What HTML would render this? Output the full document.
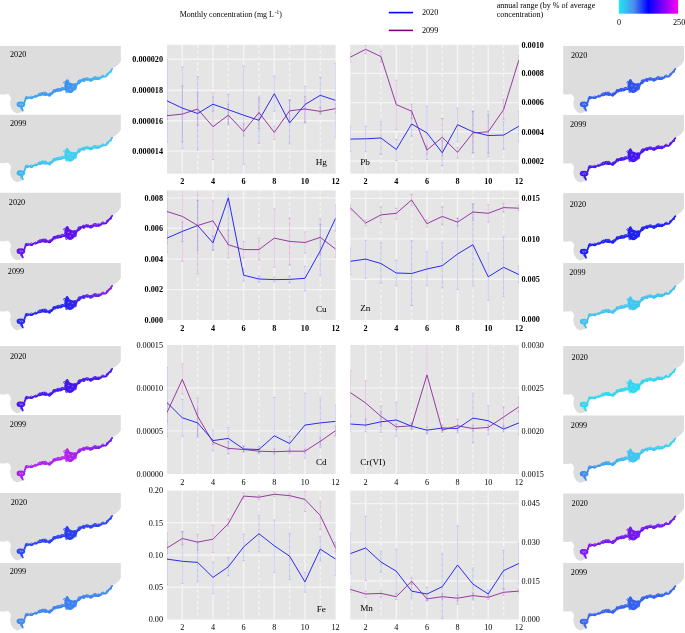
<!DOCTYPE html>
<html><head><meta charset="utf-8"><style>
html,body{margin:0;padding:0;background:#fff;width:685px;height:633px;overflow:hidden}
svg{display:block;will-change:transform;font-family:"Liberation Serif",serif;fill:#000}
</style></head><body>
<svg width="685" height="633" viewBox="0 0 685 633">
<text x="179.8" y="17.1" font-size="7.95">Monthly concentration (mg L<tspan dx="0.8" dy="-2.9" font-size="5.3">-1</tspan><tspan dy="2.9">)</tspan></text>
<path d="M388.8 12.6H413" stroke="#0000ff" stroke-width="1.6"/>
<path d="M388.8 30.4H413" stroke="#800080" stroke-width="1.6"/>
<text x="421.9" y="14.8" font-size="8.2">2020</text>
<text x="421.9" y="32.6" font-size="8.2">2099</text>
<text x="496.7" y="7.7" font-size="8.05">annual range (by % of average</text>
<text x="496.7" y="16.9" font-size="8.05">concentration)</text>
<linearGradient id="cbar" x1="0" y1="0" x2="1" y2="0"><stop offset="0" stop-color="#20e8f4"/><stop offset="0.25" stop-color="#4a90ee"/><stop offset="0.5" stop-color="#0000ff"/><stop offset="0.75" stop-color="#8000f4"/><stop offset="1" stop-color="#ff00f0"/></linearGradient>
<rect x="618.8" y="0" width="59.3" height="13.7" fill="url(#cbar)"/>
<text x="619" y="25" font-size="8.2" text-anchor="middle">0</text>
<text x="673" y="25" font-size="8.2">250</text>
<defs><polygon id="land" points="0,0 120.8,0 120.8,15.2 119.5,17 118,18.8 115.5,20.8 112.5,22.7 109,27.2 107,29.7 104,30.7 99,33.2 95,32.7 92,35.2 89,34.2 85,34.7 80,36.2 76,39.2 74,44 70,46.5 66,45 62,43.7 58,44.7 55,47.2 48,49.7 44,48.5 38,50.2 33,51.7 28,52.7 24.5,54.2 23.5,58.2 23,62 22.5,64.7 21,66.2 17,67.5 13.5,65.7 11,62 10,56.6 11,52.5 10,50 8,47.8 5,48.5 2,48.5 0,48.4" fill="#dddddd"/><g id="coastg"><path d="M22.8,64.6 L22,62.5 L21,60.6 M24.8,56 L24.6,56.0 L24.8,54.8 L25.5,53.8 L25.5,52.2 L27.0,52.4 L28.1,52.0 L29.3,51.4 L30.3,52.1 L31.3,52.0 L32.5,51.8 L33.3,51.1 L34.4,50.5 L35.5,50.5 L36.6,50.6 L37.5,49.7 L38.5,49.5 L39.6,49.4 L40.7,49.3 L41.5,48.7 L42.5,48.4 L43.5,48.8 L44.5,47.8 L45.2,48.8 L46.2,48.6 L47.1,48.7 L48.2,49.0 L49.0,49.6 L50.1,49.4 L50.5,48.3 L51.6,48.1 L52.4,47.3 L53.0,46.3 L53.8,45.6 L54.8,45.0 L55.9,44.8 L56.9,44.7 L58.0,44.9 L59.0,44.5 L59.9,44.3 L61.0,44.2 L62.0,43.7 L63.2,43.3 L64.5,43.2 M76.7,38.7 L77.3,38.0 L77.7,37.0 L78.5,36.6 L79.3,35.9 L80.1,35.6 L81.1,35.1 L81.9,34.4 L83.1,34.6 L83.9,33.7 L84.9,33.7 L85.8,33.8 L86.9,33.4 L88.0,33.8 L89.1,33.6 L90.0,34.4 L91.1,34.7 L91.9,34.1 L92.9,33.8 L93.5,32.9 L94.4,32.8 L95.4,32.9 L96.5,33.1 L97.4,32.9 L98.4,33.2 L99.4,32.8 L100.1,32.0 L101.1,31.7 L101.8,30.7 L103.0,30.8 L104.1,30.6 L105.2,30.7 L106.4,30.3 L106.7,28.9 L107.5,27.8 L108.6,27.4 L109.3,26.3 L110.8,25.8 L111.0,24.7 L111.4,23.8 L112.2,23.0 M26,52.6 L26.2,51.0 M42,48.5 L42.3,46.8 M53,46.5 L53.4,44.6 M57,45 L57.5,43.2 M80.5,36 L80.8,34.4 M90,34.6 L90.4,33 M101,32 L101.4,30.6" fill="none" stroke-width="1.8" stroke-linejoin="round" stroke-linecap="round"/><path d="M37.8,48.2 L39.0,48.5 L39.6,47.6 L40.5,47.4 L41.5,47.2 L42.6,47.4 L43.3,46.4 L44.4,46.6 L45.2,47.0 L46.0,47.6 L46.9,47.9 L48.2,48.3 L49.4,48.0 L50.4,47.3 L51.4,46.5 L52.5,46.1 L53.4,45.3 L53.7,43.9 L54.8,43.7 L55.9,43.5 L57.2,43.2 L58.5,43.2 L59.8,42.9 L61.0,42.3 L62.2,41.8 L63.5,42.0 M78.0,35.1 L78.9,34.5 L80.0,34.1 L81.1,34.2 L82.0,33.7 L83.0,33.2 L84.0,33.0 L85.0,32.8 L86.0,32.0 L87.2,32.9 L88.4,32.9 L89.7,33.3 L91.1,33.5 L91.8,32.6 L92.7,32.2 L93.4,31.4 L94.4,31.4 L95.8,31.1 L97.0,31.4 L98.2,31.4 L99.5,31.6" fill="none" stroke-width="1.3" stroke-linejoin="round" stroke-linecap="round" stroke-opacity="0.8"/><polygon points="64.2,41 64.6,37.8 65.3,35.2 66.4,33.4 67.8,33.2 68.8,34.8 69.6,36.4 71.2,37 73,37.6 75,37.2 76.6,37.6 77.4,39.5 76.8,41.8 75.2,43.8 73.4,45.6 71.5,46.9 69.5,47.1 67.5,46.3 65.6,45 64.4,43.4" stroke="none"/><ellipse cx="20.9" cy="58.4" rx="3.4" ry="1.9" fill-opacity="0.45" stroke-width="1.9"/><ellipse cx="45.6" cy="48.6" rx="1.9" ry="1.3" stroke="none"/><ellipse cx="49.5" cy="49.4" rx="1.5" ry="1.1" stroke="none"/><ellipse cx="31.5" cy="52.2" rx="1.3" ry="1.0" stroke="none"/><ellipse cx="60.5" cy="44.4" rx="1.5" ry="1.1" stroke="none"/><ellipse cx="79" cy="37" rx="1.4" ry="1.0" stroke="none"/><ellipse cx="84" cy="35" rx="1.3" ry="1.0" stroke="none"/><ellipse cx="90.5" cy="34.6" rx="1.3" ry="0.9" stroke="none"/><ellipse cx="96" cy="33" rx="1.2" ry="0.9" stroke="none"/><ellipse cx="68.6" cy="39.6" rx="0.9" ry="0.7" stroke="none" fill="#dddddd" fill-opacity="0.45"/><ellipse cx="72.4" cy="40.6" rx="0.8" ry="0.6" stroke="none" fill="#dddddd" fill-opacity="0.45"/><ellipse cx="70.2" cy="43.4" rx="0.7" ry="0.6" stroke="none" fill="#dddddd" fill-opacity="0.45"/><path fill="none" stroke-width="0.9" d="M26.4,51.6a1.1,1.1 0 1 0 2.2,0a1.1,1.1 0 1 0 -2.2,0M30.3,51.3a1.2,1.2 0 1 0 2.4,0a1.2,1.2 0 1 0 -2.4,0M34.5,50.2a1.0,1.0 0 1 0 2.0,0a1.0,1.0 0 1 0 -2.0,0M38.8,48.2a1.2,1.2 0 1 0 2.4,0a1.2,1.2 0 1 0 -2.4,0M44.1,47.6a1.4,1.4 0 1 0 2.8,0a1.4,1.4 0 1 0 -2.8,0M48.7,48.4a1.3,1.3 0 1 0 2.6,0a1.3,1.3 0 1 0 -2.6,0M53.8,45.0a1.2,1.2 0 1 0 2.4,0a1.2,1.2 0 1 0 -2.4,0M57.5,43.6a1.3,1.3 0 1 0 2.6,0a1.3,1.3 0 1 0 -2.6,0M61.4,42.6a1.1,1.1 0 1 0 2.2,0a1.1,1.1 0 1 0 -2.2,0M78.3,35.2a1.2,1.2 0 1 0 2.4,0a1.2,1.2 0 1 0 -2.4,0M82.3,33.6a1.2,1.2 0 1 0 2.4,0a1.2,1.2 0 1 0 -2.4,0M86.2,32.9a1.3,1.3 0 1 0 2.6,0a1.3,1.3 0 1 0 -2.6,0M90.4,33.6a1.1,1.1 0 1 0 2.2,0a1.1,1.1 0 1 0 -2.2,0M93.8,31.8a1.2,1.2 0 1 0 2.4,0a1.2,1.2 0 1 0 -2.4,0M98.0,32.1a1.0,1.0 0 1 0 2.0,0a1.0,1.0 0 1 0 -2.0,0M102.0,30.0a1.0,1.0 0 1 0 2.0,0a1.0,1.0 0 1 0 -2.0,0M106.6,28.6a0.9,0.9 0 1 0 1.8,0a0.9,0.9 0 1 0 -1.8,0M109.7,25.6a0.8,0.8 0 1 0 1.6,0a0.8,0.8 0 1 0 -1.6,0M17.7,57.5a1.3,1.3 0 1 0 2.6,0a1.3,1.3 0 1 0 -2.6,0M21.3,58.8a1.2,1.2 0 1 0 2.4,0a1.2,1.2 0 1 0 -2.4,0M20.6,62.3a0.9,0.9 0 1 0 1.8,0a0.9,0.9 0 1 0 -1.8,0M63.6,36.5a0.9,0.9 0 1 0 1.8,0a0.9,0.9 0 1 0 -1.8,0M77.0,37.2a1.0,1.0 0 1 0 2.0,0a1.0,1.0 0 1 0 -2.0,0M65.6,45.8a0.9,0.9 0 1 0 1.8,0a0.9,0.9 0 1 0 -1.8,0M74.6,43.0a0.9,0.9 0 1 0 1.8,0a0.9,0.9 0 1 0 -1.8,0"/></g></defs>
<linearGradient id="mg0" gradientUnits="userSpaceOnUse" x1="20" y1="0" x2="112" y2="0"><stop offset="0" stop-color="#3aa8f2"/><stop offset="0.5" stop-color="#3c92f0"/><stop offset="1" stop-color="#40c6f2"/></linearGradient>
<g transform="translate(0,46)"><use href="#land"/><use href="#coastg" stroke="url(#mg0)" fill="url(#mg0)"/><text x="10" y="11" font-size="8.2">2020</text></g>
<linearGradient id="mg1" gradientUnits="userSpaceOnUse" x1="20" y1="0" x2="112" y2="0"><stop offset="0" stop-color="#38b8f0"/><stop offset="0.5" stop-color="#40d0f2"/><stop offset="1" stop-color="#3cc8f0"/></linearGradient>
<g transform="translate(0,114.7)"><use href="#land"/><use href="#coastg" stroke="url(#mg1)" fill="url(#mg1)"/><text x="10" y="11.1" font-size="8.2">2099</text></g>
<linearGradient id="mg2" gradientUnits="userSpaceOnUse" x1="20" y1="0" x2="112" y2="0"><stop offset="0" stop-color="#6412f2"/><stop offset="0.5" stop-color="#5e12f0"/><stop offset="1" stop-color="#6a14f2"/></linearGradient>
<g transform="translate(0,192.8)"><use href="#land"/><use href="#coastg" stroke="url(#mg2)" fill="url(#mg2)"/><text x="8.8" y="12.3" font-size="8.2">2020</text></g>
<linearGradient id="mg3" gradientUnits="userSpaceOnUse" x1="20" y1="0" x2="112" y2="0"><stop offset="0" stop-color="#2a2af2"/><stop offset="0.5" stop-color="#2424f0"/><stop offset="1" stop-color="#8a1cf0"/></linearGradient>
<g transform="translate(0,262.9)"><use href="#land"/><use href="#coastg" stroke="url(#mg3)" fill="url(#mg3)"/><text x="7.8" y="11" font-size="8.2">2099</text></g>
<linearGradient id="mg4" gradientUnits="userSpaceOnUse" x1="20" y1="0" x2="112" y2="0"><stop offset="0" stop-color="#4a16f0"/><stop offset="0.5" stop-color="#4218f0"/><stop offset="1" stop-color="#4a16f0"/></linearGradient>
<g transform="translate(0,345.9)"><use href="#land"/><use href="#coastg" stroke="url(#mg4)" fill="url(#mg4)"/><text x="10" y="12.8" font-size="8.2">2020</text></g>
<linearGradient id="mg5" gradientUnits="userSpaceOnUse" x1="20" y1="0" x2="112" y2="0"><stop offset="0" stop-color="#a81ef2"/><stop offset="0.5" stop-color="#b424f2"/><stop offset="1" stop-color="#6e18f0"/></linearGradient>
<g transform="translate(0,415)"><use href="#land"/><use href="#coastg" stroke="url(#mg5)" fill="url(#mg5)"/><text x="9.8" y="11.9" font-size="8.2">2099</text></g>
<linearGradient id="mg6" gradientUnits="userSpaceOnUse" x1="20" y1="0" x2="112" y2="0"><stop offset="0" stop-color="#3048f0"/><stop offset="0.5" stop-color="#2a3cf0"/><stop offset="1" stop-color="#3048f0"/></linearGradient>
<g transform="translate(0,492.9)"><use href="#land"/><use href="#coastg" stroke="url(#mg6)" fill="url(#mg6)"/><text x="10.7" y="12.2" font-size="8.2">2020</text></g>
<linearGradient id="mg7" gradientUnits="userSpaceOnUse" x1="20" y1="0" x2="112" y2="0"><stop offset="0" stop-color="#4088f0"/><stop offset="0.5" stop-color="#3c80f0"/><stop offset="1" stop-color="#4088f0"/></linearGradient>
<g transform="translate(0,562.9)"><use href="#land"/><use href="#coastg" stroke="url(#mg7)" fill="url(#mg7)"/><text x="9.7" y="11" font-size="8.2">2099</text></g>
<linearGradient id="mg8" gradientUnits="userSpaceOnUse" x1="20" y1="0" x2="112" y2="0"><stop offset="0" stop-color="#3060f0"/><stop offset="0.5" stop-color="#3050f0"/><stop offset="1" stop-color="#3a70f0"/></linearGradient>
<g transform="translate(563.2,45.9)"><use href="#land"/><use href="#coastg" stroke="url(#mg8)" fill="url(#mg8)"/><text x="7.7" y="12.4" font-size="8.2">2020</text></g>
<linearGradient id="mg9" gradientUnits="userSpaceOnUse" x1="20" y1="0" x2="112" y2="0"><stop offset="0" stop-color="#4018f0"/><stop offset="0.5" stop-color="#4418f0"/><stop offset="1" stop-color="#5a14f0"/></linearGradient>
<g transform="translate(563.2,115.1)"><use href="#land"/><use href="#coastg" stroke="url(#mg9)" fill="url(#mg9)"/><text x="6.8" y="11.7" font-size="8.2">2099</text></g>
<linearGradient id="mg10" gradientUnits="userSpaceOnUse" x1="20" y1="0" x2="112" y2="0"><stop offset="0" stop-color="#2020f0"/><stop offset="0.5" stop-color="#2020f0"/><stop offset="1" stop-color="#2424f0"/></linearGradient>
<g transform="translate(563.2,193.1)"><use href="#land"/><use href="#coastg" stroke="url(#mg10)" fill="url(#mg10)"/><text x="6.5" y="13.8" font-size="8.2">2020</text></g>
<linearGradient id="mg11" gradientUnits="userSpaceOnUse" x1="20" y1="0" x2="112" y2="0"><stop offset="0" stop-color="#40c0f0"/><stop offset="0.5" stop-color="#40c8f0"/><stop offset="1" stop-color="#40c0f0"/></linearGradient>
<g transform="translate(563.2,263.1)"><use href="#land"/><use href="#coastg" stroke="url(#mg11)" fill="url(#mg11)"/><text x="6" y="11.8" font-size="8.2">2099</text></g>
<linearGradient id="mg12" gradientUnits="userSpaceOnUse" x1="20" y1="0" x2="112" y2="0"><stop offset="0" stop-color="#30d6f2"/><stop offset="0.5" stop-color="#30d8f2"/><stop offset="1" stop-color="#30d8f2"/></linearGradient>
<g transform="translate(563.2,346.1)"><use href="#land"/><use href="#coastg" stroke="url(#mg12)" fill="url(#mg12)"/><text x="8.4" y="13.9" font-size="8.2">2020</text></g>
<linearGradient id="mg13" gradientUnits="userSpaceOnUse" x1="20" y1="0" x2="112" y2="0"><stop offset="0" stop-color="#3c88f0"/><stop offset="0.5" stop-color="#40c4f2"/><stop offset="1" stop-color="#38d4f2"/></linearGradient>
<g transform="translate(563.2,415.4)"><use href="#land"/><use href="#coastg" stroke="url(#mg13)" fill="url(#mg13)"/><text x="7.6" y="12.2" font-size="8.2">2099</text></g>
<linearGradient id="mg14" gradientUnits="userSpaceOnUse" x1="20" y1="0" x2="112" y2="0"><stop offset="0" stop-color="#8018f0"/><stop offset="0.5" stop-color="#7418f0"/><stop offset="1" stop-color="#7818f0"/></linearGradient>
<g transform="translate(563.2,493.4)"><use href="#land"/><use href="#coastg" stroke="url(#mg14)" fill="url(#mg14)"/><text x="8.4" y="12.7" font-size="8.2">2020</text></g>
<linearGradient id="mg15" gradientUnits="userSpaceOnUse" x1="20" y1="0" x2="112" y2="0"><stop offset="0" stop-color="#3868f0"/><stop offset="0.5" stop-color="#3460f0"/><stop offset="1" stop-color="#3868f0"/></linearGradient>
<g transform="translate(563.2,563.1)"><use href="#land"/><use href="#coastg" stroke="url(#mg15)" fill="url(#mg15)"/><text x="7.6" y="11.5" font-size="8.2">2099</text></g>
<clipPath id="clipHg"><rect x="167" y="44.8" width="168.6" height="128.9"/></clipPath>
<rect x="167" y="44.8" width="168.6" height="128.9" fill="#e5e5e5"/>
<path d="M167 59.3H335.6M167 90.3H335.6M167 120.8H335.6M167 151.1H335.6" stroke="#f4f4f4" stroke-width="1.4" fill="none"/>
<path d="M182.33 44.8V173.7M212.98 44.8V173.7M243.63 44.8V173.7M274.29 44.8V173.7M304.94 44.8V173.7" stroke="#f4f4f4" stroke-width="1.4" fill="none"/>
<path d="M197.65 44.8V173.7M228.31 44.8V173.7M258.96 44.8V173.7M289.62 44.8V173.7M320.27 44.8V173.7" stroke="#f4f4f4" stroke-width="1.35" stroke-dasharray="3.2 2.6" fill="none"/>
<g clip-path="url(#clipHg)"><path d="M167 111.9V119.6M165.8 111.9H168.2M165.8 119.6H168.2M182.33 86V141.8M181.13 86H183.53M181.13 141.8H183.53M197.65 92.7V125.2M196.45 92.7H198.85M196.45 125.2H198.85M212.98 93V159.5M211.78 93H214.18M211.78 159.5H214.18M228.31 104.2V123M227.11 104.2H229.51M227.11 123H229.51M243.63 124V136M242.44 124H244.83M242.44 136H244.83M258.96 98.6V128.5M257.76 98.6H260.16M257.76 128.5H260.16M274.29 126.2V139.5M273.09 126.2H275.49M273.09 139.5H275.49M289.62 100V121.8M288.42 100H290.82M288.42 121.8H290.82M304.94 96.4V122.3M303.74 96.4H306.14M303.74 122.3H306.14M320.27 107.4V114.7M319.07 107.4H321.47M319.07 114.7H321.47M335.6 104V113M334.4 104H336.8M334.4 113H336.8" stroke="rgba(170,50,170,0.3)" stroke-width="0.8" fill="none"/><path d="M167 59.5V142.2M165.8 59.5H168.2M165.8 142.2H168.2M182.33 67V148.4M181.13 67H183.53M181.13 148.4H183.53M197.65 76.5V150.2M196.45 76.5H198.85M196.45 150.2H198.85M212.98 97V111.2M211.78 97H214.18M211.78 111.2H214.18M228.31 94.2V124.7M227.11 94.2H229.51M227.11 124.7H229.51M243.63 66.1V164.3M242.44 66.1H244.83M242.44 164.3H244.83M258.96 97V143.5M257.76 97H260.16M257.76 143.5H260.16M274.29 76V111.2M273.09 76H275.49M273.09 111.2H275.49M289.62 99.7V144M288.42 99.7H290.82M288.42 144H290.82M304.94 86.4V123M303.74 86.4H306.14M303.74 123H306.14M320.27 77.2V113M319.07 77.2H321.47M319.07 113H321.47M335.6 63.2V137.7M334.4 63.2H336.8M334.4 137.7H336.8" stroke="rgba(80,80,255,0.3)" stroke-width="0.8" fill="none"/><polyline points="167,115.7 182.33,114.1 197.65,109 212.98,126.7 228.31,115.2 243.63,131.4 258.96,112.5 274.29,132.4 289.62,110.8 304.94,109 320.27,111.4 335.6,108.6" stroke="#963a9f" stroke-width="1.0" fill="none" stroke-linejoin="miter"/><polyline points="167,100.8 182.33,108.1 197.65,113.5 212.98,104.2 228.31,109.7 243.63,115.2 258.96,120.3 274.29,93.7 289.62,122.9 304.94,104.6 320.27,95.3 335.6,100.4" stroke="#2b2bef" stroke-width="1.0" fill="none" stroke-linejoin="miter"/></g>
<g text-anchor="end" font-weight="bold" font-size="8.2"><text x="163" y="62.05">0.000020</text><text x="163" y="93.05">0.000018</text><text x="163" y="123.55">0.000016</text><text x="163" y="153.85">0.000014</text></g>
<g text-anchor="middle" font-weight="bold" font-size="8.2"><text x="182.33" y="183.8">2</text><text x="212.98" y="183.8">4</text><text x="243.63" y="183.8">6</text><text x="274.29" y="183.8">8</text><text x="304.94" y="183.8">10</text><text x="335.6" y="183.8">12</text></g>
<text x="321.3" y="164.9" font-size="9.2" text-anchor="middle">Hg</text>
<clipPath id="clipPb"><rect x="350.3" y="44.8" width="168.6" height="128.9"/></clipPath>
<rect x="350.3" y="44.8" width="168.6" height="128.9" fill="#e5e5e5"/>
<path d="M350.3 73.4H518.9M350.3 102.6H518.9M350.3 131.8H518.9M350.3 161H518.9" stroke="#f4f4f4" stroke-width="1.4" fill="none"/>
<path d="M365.63 44.8V173.7M396.28 44.8V173.7M426.94 44.8V173.7M457.59 44.8V173.7M488.24 44.8V173.7" stroke="#f4f4f4" stroke-width="1.4" fill="none"/>
<path d="M380.95 44.8V173.7M411.61 44.8V173.7M442.26 44.8V173.7M472.92 44.8V173.7M503.57 44.8V173.7" stroke="#f4f4f4" stroke-width="1.35" stroke-dasharray="3.2 2.6" fill="none"/>
<g clip-path="url(#clipPb)"><path d="M350.3 53.3V62.1M349.1 53.3H351.5M349.1 62.1H351.5M365.63 44.9V53.7M364.43 44.9H366.83M364.43 53.7H366.83M380.95 51V62.1M379.75 51H382.15M379.75 62.1H382.15M396.28 80.2V129.6M395.08 80.2H397.48M395.08 129.6H397.48M411.61 104.1V118.5M410.41 104.1H412.81M410.41 118.5H412.81M426.94 146V154M425.74 146H428.13M425.74 154H428.13M442.26 118.5V156.1M441.06 118.5H443.46M441.06 156.1H443.46M457.59 147.3V158.3M456.39 147.3H458.79M456.39 158.3H458.79M472.92 111.2V152.3M471.72 111.2H474.12M471.72 152.3H474.12M488.24 111.2V153.2M487.04 111.2H489.44M487.04 153.2H489.44M503.57 99.3V119.2M502.37 99.3H504.77M502.37 119.2H504.77M518.9 55.9V63.9M517.7 55.9H520.1M517.7 63.9H520.1" stroke="rgba(170,50,170,0.3)" stroke-width="0.8" fill="none"/><path d="M350.3 126.2V151.7M349.1 126.2H351.5M349.1 151.7H351.5M365.63 126.2V151.7M364.43 126.2H366.83M364.43 151.7H366.83M380.95 121.4V154.5M379.75 121.4H382.15M379.75 154.5H382.15M396.28 139.5V160.5M395.08 139.5H397.48M395.08 160.5H397.48M411.61 110.3V136.2M410.41 110.3H412.81M410.41 136.2H412.81M426.94 106.3V159.4M425.74 106.3H428.13M425.74 159.4H428.13M442.26 140.6V165.6M441.06 140.6H443.46M441.06 165.6H443.46M457.59 108.1V141.7M456.39 108.1H458.79M456.39 141.7H458.79M472.92 111.2V152.8M471.72 111.2H474.12M471.72 152.8H474.12M488.24 115.2V156.8M487.04 115.2H489.44M487.04 156.8H489.44M503.57 121.4V149.5M502.37 121.4H504.77M502.37 149.5H504.77M518.9 111.2V141.7M517.7 111.2H520.1M517.7 141.7H520.1" stroke="rgba(80,80,255,0.3)" stroke-width="0.8" fill="none"/><polyline points="350.3,57.2 365.63,49.3 380.95,56.6 396.28,104.6 411.61,111.2 426.94,150.1 442.26,137.3 457.59,152.3 472.92,132.9 488.24,131.8 503.57,109.7 518.9,59.9" stroke="#963a9f" stroke-width="1.0" fill="none" stroke-linejoin="miter"/><polyline points="350.3,139.1 365.63,138.8 380.95,138 396.28,149.5 411.61,124 426.94,132.9 442.26,152.8 457.59,124.7 472.92,131.8 488.24,135.5 503.57,135.1 518.9,126.2" stroke="#2b2bef" stroke-width="1.0" fill="none" stroke-linejoin="miter"/></g>
<g text-anchor="start" font-weight="bold" font-size="8.2"><text x="521.4" y="47.55">0.0010</text><text x="521.4" y="76.15">0.0008</text><text x="521.4" y="105.35">0.0006</text><text x="521.4" y="134.55">0.0004</text><text x="521.4" y="163.75">0.0002</text></g>
<g text-anchor="middle" font-weight="bold" font-size="8.2"><text x="365.63" y="183.8">2</text><text x="396.28" y="183.8">4</text><text x="426.94" y="183.8">6</text><text x="457.59" y="183.8">8</text><text x="488.24" y="183.8">10</text><text x="518.9" y="183.8">12</text></g>
<text x="360.2" y="165.4" font-size="9.2" text-anchor="start">Pb</text>
<clipPath id="clipCu"><rect x="167" y="190.5" width="168.6" height="129.5"/></clipPath>
<rect x="167" y="190.5" width="168.6" height="129.5" fill="#e5e5e5"/>
<path d="M167 197.9H335.6M167 228.3H335.6M167 259.1H335.6M167 289.6H335.6" stroke="#f4f4f4" stroke-width="1.4" fill="none"/>
<path d="M182.33 190.5V320M212.98 190.5V320M243.63 190.5V320M274.29 190.5V320M304.94 190.5V320" stroke="#f4f4f4" stroke-width="1.4" fill="none"/>
<path d="M197.65 190.5V320M228.31 190.5V320M258.96 190.5V320M289.62 190.5V320M320.27 190.5V320" stroke="#f4f4f4" stroke-width="1.35" stroke-dasharray="3.2 2.6" fill="none"/>
<g clip-path="url(#clipCu)"><path d="M167 180V252.4M165.8 180H168.2M165.8 252.4H168.2M182.33 180V261.3M181.13 180H183.53M181.13 261.3H183.53M197.65 180V273.9M196.45 180H198.85M196.45 273.9H198.85M212.98 200.9V250M211.78 200.9H214.18M211.78 250H214.18M228.31 230.3V258M227.11 230.3H229.51M227.11 258H229.51M243.63 241.4V258M242.44 241.4H244.83M242.44 258H244.83M258.96 238.1V260.2M257.76 238.1H260.16M257.76 260.2H260.16M274.29 208.9V267.3M273.09 208.9H275.49M273.09 267.3H275.49M289.62 218.2V265M288.42 218.2H290.82M288.42 265H290.82M304.94 231.9V253.1M303.74 231.9H306.14M303.74 253.1H306.14M320.27 219.3V255M319.07 219.3H321.47M319.07 255H321.47M335.6 241.4V257.5M334.4 241.4H336.8M334.4 257.5H336.8" stroke="rgba(170,50,170,0.3)" stroke-width="0.8" fill="none"/><path d="M167 231.9V243.6M165.8 231.9H168.2M165.8 243.6H168.2M182.33 222.2V241.4M181.13 222.2H183.53M181.13 241.4H183.53M197.65 200.5V250.2M196.45 200.5H198.85M196.45 250.2H198.85M212.98 235.9V250.2M211.78 235.9H214.18M211.78 250.2H214.18M228.31 185V244.5M227.11 185H229.51M227.11 244.5H229.51M243.63 269V281.2M242.44 269H244.83M242.44 281.2H244.83M258.96 276V282M257.76 276H260.16M257.76 282H260.16M274.29 277V282M273.09 277H275.49M273.09 282H275.49M289.62 276V283M288.42 276H290.82M288.42 283H290.82M304.94 266.4V291.1M303.74 266.4H306.14M303.74 291.1H306.14M320.27 224.4V275.2M319.07 224.4H321.47M319.07 275.2H321.47M335.6 204.9V231.4M334.4 204.9H336.8M334.4 231.4H336.8" stroke="rgba(80,80,255,0.3)" stroke-width="0.8" fill="none"/><polyline points="167,211.5 182.33,216.4 197.65,225.5 212.98,220.8 228.31,244.7 243.63,249.6 258.96,249.6 274.29,238.1 289.62,241.4 304.94,242.5 320.27,237.4 335.6,249.1" stroke="#963a9f" stroke-width="1.0" fill="none" stroke-linejoin="miter"/><polyline points="167,238.1 182.33,231.4 197.65,225.5 212.98,242.9 228.31,197.8 243.63,275.2 258.96,279 274.29,279.6 289.62,279.4 304.94,278.3 320.27,250.9 335.6,218.2" stroke="#2b2bef" stroke-width="1.0" fill="none" stroke-linejoin="miter"/></g>
<g text-anchor="end" font-weight="bold" font-size="8.2"><text x="163" y="200.65">0.008</text><text x="163" y="231.05">0.006</text><text x="163" y="261.85">0.004</text><text x="163" y="292.35">0.002</text><text x="163" y="322.75">0.000</text></g>
<g text-anchor="middle" font-weight="bold" font-size="8.2"><text x="182.33" y="330.6">2</text><text x="212.98" y="330.6">4</text><text x="243.63" y="330.6">6</text><text x="274.29" y="330.6">8</text><text x="304.94" y="330.6">10</text><text x="335.6" y="330.6">12</text></g>
<text x="321.3" y="311.6" font-size="9.2" text-anchor="middle">Cu</text>
<clipPath id="clipZn"><rect x="350.3" y="190.5" width="168.6" height="129.5"/></clipPath>
<rect x="350.3" y="190.5" width="168.6" height="129.5" fill="#e5e5e5"/>
<path d="M350.3 198.4H518.9M350.3 238.9H518.9M350.3 279.3H518.9" stroke="#f4f4f4" stroke-width="1.4" fill="none"/>
<path d="M365.63 190.5V320M396.28 190.5V320M426.94 190.5V320M457.59 190.5V320M488.24 190.5V320" stroke="#f4f4f4" stroke-width="1.4" fill="none"/>
<path d="M380.95 190.5V320M411.61 190.5V320M442.26 190.5V320M472.92 190.5V320M503.57 190.5V320" stroke="#f4f4f4" stroke-width="1.35" stroke-dasharray="3.2 2.6" fill="none"/>
<g clip-path="url(#clipZn)"><path d="M350.3 204.9V211.1M349.1 204.9H351.5M349.1 211.1H351.5M365.63 220V226M364.43 220H366.83M364.43 226H366.83M380.95 207.1V222.6M379.75 207.1H382.15M379.75 222.6H382.15M396.28 208.2V219.3M395.08 208.2H397.48M395.08 219.3H397.48M411.61 194.3V205.3M410.41 194.3H412.81M410.41 205.3H412.81M426.94 220V227M425.74 220H428.13M425.74 227H428.13M442.26 207.1V224.8M441.06 207.1H443.46M441.06 224.8H443.46M457.59 218V226M456.39 218H458.79M456.39 226H458.79M472.92 203.8V220.4M471.72 203.8H474.12M471.72 220.4H474.12M488.24 204.5V222.2M487.04 204.5H489.44M487.04 222.2H489.44M503.57 203.1V212M502.37 203.1H504.77M502.37 212H504.77M518.9 205V211M517.7 205H520.1M517.7 211H520.1" stroke="rgba(170,50,170,0.3)" stroke-width="0.8" fill="none"/><path d="M350.3 248V274.6M349.1 248H351.5M349.1 274.6H351.5M365.63 240.3V278.3M364.43 240.3H366.83M364.43 278.3H366.83M380.95 242.9V283.4M379.75 242.9H382.15M379.75 283.4H382.15M396.28 260.2V285.6M395.08 260.2H397.48M395.08 285.6H397.48M411.61 240.7V305.5M410.41 240.7H412.81M410.41 305.5H412.81M426.94 251.8V285.6M425.74 251.8H428.13M425.74 285.6H428.13M442.26 242.9V287.8M441.06 242.9H443.46M441.06 287.8H443.46M457.59 218.2V289.4M456.39 218.2H458.79M456.39 289.4H458.79M472.92 203.8V285.6M471.72 203.8H474.12M471.72 285.6H474.12M488.24 253.1V300.4M487.04 253.1H489.44M487.04 300.4H489.44M503.57 237V296.7M502.37 237H504.77M502.37 296.7H504.77M518.9 266.4V282.3M517.7 266.4H520.1M517.7 282.3H520.1" stroke="rgba(80,80,255,0.3)" stroke-width="0.8" fill="none"/><polyline points="350.3,207.8 365.63,223 380.95,214.9 396.28,213.3 411.61,200 426.94,223.7 442.26,216.4 457.59,222.2 472.92,212 488.24,213.3 503.57,207.6 518.9,208.2" stroke="#963a9f" stroke-width="1.0" fill="none" stroke-linejoin="miter"/><polyline points="350.3,261.3 365.63,259.1 380.95,263.5 396.28,273 411.61,273.5 426.94,269 442.26,265.7 457.59,254 472.92,244.7 488.24,276.8 503.57,267.3 518.9,274.6" stroke="#2b2bef" stroke-width="1.0" fill="none" stroke-linejoin="miter"/></g>
<g text-anchor="start" font-weight="bold" font-size="8.2"><text x="521.4" y="201.15">0.015</text><text x="521.4" y="241.65">0.010</text><text x="521.4" y="282.05">0.005</text><text x="521.4" y="322.45">0.000</text></g>
<g text-anchor="middle" font-weight="bold" font-size="8.2"><text x="365.63" y="330.6">2</text><text x="396.28" y="330.6">4</text><text x="426.94" y="330.6">6</text><text x="457.59" y="330.6">8</text><text x="488.24" y="330.6">10</text><text x="518.9" y="330.6">12</text></g>
<text x="360.2" y="310.8" font-size="9.2" text-anchor="start">Zn</text>
<clipPath id="clipCd"><rect x="167" y="344.9" width="168.6" height="129.1"/></clipPath>
<rect x="167" y="344.9" width="168.6" height="129.1" fill="#e5e5e5"/>
<path d="M167 387.9H335.6M167 430.9H335.6" stroke="#f4f4f4" stroke-width="1.4" fill="none"/>
<path d="M182.33 344.9V474M212.98 344.9V474M243.63 344.9V474M274.29 344.9V474M304.94 344.9V474" stroke="#f4f4f4" stroke-width="1.4" fill="none"/>
<path d="M197.65 344.9V474M228.31 344.9V474M258.96 344.9V474M289.62 344.9V474M320.27 344.9V474" stroke="#f4f4f4" stroke-width="1.35" stroke-dasharray="3.2 2.6" fill="none"/>
<g clip-path="url(#clipCd)"><path d="M167 404.1V421.8M165.8 404.1H168.2M165.8 421.8H168.2M182.33 363.9V394.2M181.13 363.9H183.53M181.13 394.2H183.53M197.65 397.9V435.1M196.45 397.9H198.85M196.45 435.1H198.85M212.98 440V444.5M211.78 440H214.18M211.78 444.5H214.18M228.31 441.7V453.9M227.11 441.7H229.51M227.11 453.9H229.51M243.63 446V452M242.44 446H244.83M242.44 452H244.83M258.96 449V453M257.76 449H260.16M257.76 453H260.16M274.29 449V454M273.09 449H275.49M273.09 454H275.49M289.62 449V453M288.42 449H290.82M288.42 453H290.82M304.94 449V453M303.74 449H306.14M303.74 453H306.14M320.27 438V445M319.07 438H321.47M319.07 445H321.47M335.6 426.2V435.5M334.4 426.2H336.8M334.4 435.5H336.8" stroke="rgba(170,50,170,0.3)" stroke-width="0.8" fill="none"/><path d="M167 367.6V436.9M165.8 367.6H168.2M165.8 436.9H168.2M182.33 399.3V436.2M181.13 399.3H183.53M181.13 436.2H183.53M197.65 409V437.3M196.45 409H198.85M196.45 437.3H198.85M212.98 430.2V450.6M211.78 430.2H214.18M211.78 450.6H214.18M228.31 427.4V449.5M227.11 427.4H229.51M227.11 449.5H229.51M243.63 446V452M242.44 446H244.83M242.44 452H244.83M258.96 446V453M257.76 446H260.16M257.76 453H260.16M274.29 397.5V473.8M273.09 397.5H275.49M273.09 473.8H275.49M289.62 436.2V450.6M288.42 436.2H290.82M288.42 450.6H290.82M304.94 393.1V458.3M303.74 393.1H306.14M303.74 458.3H306.14M320.27 397.9V447.3M319.07 397.9H321.47M319.07 447.3H321.47M335.6 405.2V436.2M334.4 405.2H336.8M334.4 436.2H336.8" stroke="rgba(80,80,255,0.3)" stroke-width="0.8" fill="none"/><polyline points="167,412.5 182.33,379.4 197.65,416.3 212.98,442.2 228.31,448.4 243.63,449.5 258.96,451.2 274.29,451.7 289.62,451.2 304.94,451.2 320.27,441.3 335.6,430.7" stroke="#963a9f" stroke-width="1.0" fill="none" stroke-linejoin="miter"/><polyline points="167,402.6 182.33,417.8 197.65,422.9 212.98,440.6 228.31,438.4 243.63,449 258.96,449.5 274.29,435.8 289.62,443.5 304.94,425.1 320.27,422.9 335.6,421.4" stroke="#2b2bef" stroke-width="1.0" fill="none" stroke-linejoin="miter"/></g>
<g text-anchor="end" font-weight="normal" font-size="8.2"><text x="163" y="347.65">0.00015</text><text x="163" y="390.65">0.00010</text><text x="163" y="433.65">0.00005</text><text x="163" y="476.75">0.00000</text></g>
<g text-anchor="middle" font-weight="normal" font-size="8.2"><text x="182.33" y="484.9">2</text><text x="212.98" y="484.9">4</text><text x="243.63" y="484.9">6</text><text x="274.29" y="484.9">8</text><text x="304.94" y="484.9">10</text><text x="335.6" y="484.9">12</text></g>
<text x="321.3" y="464.9" font-size="9.2" text-anchor="middle">Cd</text>
<clipPath id="clipCr"><rect x="350.3" y="344.9" width="168.6" height="129.1"/></clipPath>
<rect x="350.3" y="344.9" width="168.6" height="129.1" fill="#e5e5e5"/>
<path d="M350.3 387.9H518.9M350.3 430.9H518.9" stroke="#f4f4f4" stroke-width="1.4" fill="none"/>
<path d="M365.63 344.9V474M396.28 344.9V474M426.94 344.9V474M457.59 344.9V474M488.24 344.9V474" stroke="#f4f4f4" stroke-width="1.4" fill="none"/>
<path d="M380.95 344.9V474M411.61 344.9V474M442.26 344.9V474M472.92 344.9V474M503.57 344.9V474" stroke="#f4f4f4" stroke-width="1.35" stroke-dasharray="3.2 2.6" fill="none"/>
<g clip-path="url(#clipCr)"><path d="M350.3 370.5V415.2M349.1 370.5H351.5M349.1 415.2H351.5M365.63 380.9V426M364.43 380.9H366.83M364.43 426H366.83M380.95 405.9V426.2M379.75 405.9H382.15M379.75 426.2H382.15M396.28 424V430M395.08 424H397.48M395.08 430H397.48M411.61 423V428.5M410.41 423H412.81M410.41 428.5H412.81M426.94 344.4V434M425.74 344.4H428.13M425.74 434H428.13M442.26 428V432.5M441.06 428H443.46M441.06 432.5H443.46M457.59 419.2V430.7M456.39 419.2H458.79M456.39 430.7H458.79M472.92 426V431M471.72 426H474.12M471.72 431H474.12M488.24 425V430M487.04 425H489.44M487.04 430H489.44M503.57 406.8V427.4M502.37 406.8H504.77M502.37 427.4H504.77M518.9 397V411.9M517.7 397H520.1M517.7 411.9H520.1" stroke="rgba(170,50,170,0.3)" stroke-width="0.8" fill="none"/><path d="M350.3 416.3V431.8M349.1 416.3H351.5M349.1 431.8H351.5M365.63 419.2V431.8M364.43 419.2H366.83M364.43 431.8H366.83M380.95 411.2V432.4M379.75 411.2H382.15M379.75 432.4H382.15M396.28 402.4V436.2M395.08 402.4H397.48M395.08 436.2H397.48M411.61 423V429.5M410.41 423H412.81M410.41 429.5H412.81M426.94 427V433M425.74 427H428.13M425.74 433H428.13M442.26 425V431M441.06 425H443.46M441.06 431H443.46M457.59 425.1V432.9M456.39 425.1H458.79M456.39 432.9H458.79M472.92 393.1V442.8M471.72 393.1H474.12M471.72 442.8H474.12M488.24 405.9V434.6M487.04 405.9H489.44M487.04 434.6H489.44M503.57 426V432M502.37 426H504.77M502.37 432H504.77M518.9 411.2V434.6M517.7 411.2H520.1M517.7 434.6H520.1" stroke="rgba(80,80,255,0.3)" stroke-width="0.8" fill="none"/><polyline points="350.3,392.6 365.63,403 380.95,416.3 396.28,426.9 411.61,425.8 426.94,374.9 442.26,430.2 457.59,425.8 472.92,428.5 488.24,427.4 503.57,417 518.9,406.8" stroke="#963a9f" stroke-width="1.0" fill="none" stroke-linejoin="miter"/><polyline points="350.3,424 365.63,425.1 380.95,421.8 396.28,420 411.61,426.2 426.94,430.2 442.26,428 457.59,428.5 472.92,418.1 488.24,420.7 503.57,429.1 518.9,422.9" stroke="#2b2bef" stroke-width="1.0" fill="none" stroke-linejoin="miter"/></g>
<g text-anchor="start" font-weight="normal" font-size="8.2"><text x="521.4" y="347.65">0.0030</text><text x="521.4" y="390.65">0.0025</text><text x="521.4" y="433.65">0.0020</text><text x="521.4" y="476.75">0.0015</text></g>
<g text-anchor="middle" font-weight="normal" font-size="8.2"><text x="365.63" y="484.9">2</text><text x="396.28" y="484.9">4</text><text x="426.94" y="484.9">6</text><text x="457.59" y="484.9">8</text><text x="488.24" y="484.9">10</text><text x="518.9" y="484.9">12</text></g>
<text x="360.2" y="465.4" font-size="9.2" text-anchor="start">Cr(VI)</text>
<clipPath id="clipFe"><rect x="167" y="490.6" width="168.6" height="128.9"/></clipPath>
<rect x="167" y="490.6" width="168.6" height="128.9" fill="#e5e5e5"/>
<path d="M167 522.8H335.6M167 555H335.6M167 587.2H335.6" stroke="#f4f4f4" stroke-width="1.4" fill="none"/>
<path d="M182.33 490.6V619.5M212.98 490.6V619.5M243.63 490.6V619.5M274.29 490.6V619.5M304.94 490.6V619.5" stroke="#f4f4f4" stroke-width="1.4" fill="none"/>
<path d="M197.65 490.6V619.5M228.31 490.6V619.5M258.96 490.6V619.5M289.62 490.6V619.5M320.27 490.6V619.5" stroke="#f4f4f4" stroke-width="1.35" stroke-dasharray="3.2 2.6" fill="none"/>
<g clip-path="url(#clipFe)"><path d="M167 542.1V553.6M165.8 542.1H168.2M165.8 553.6H168.2M182.33 531.9V544.7M181.13 531.9H183.53M181.13 544.7H183.53M197.65 534.1V550.2M196.45 534.1H198.85M196.45 550.2H198.85M212.98 525.2V552.4M211.78 525.2H214.18M211.78 552.4H214.18M228.31 519.3V526.6M227.11 519.3H229.51M227.11 526.6H229.51M243.63 493V499M242.44 493H244.83M242.44 499H244.83M258.96 495V499.4M257.76 495H260.16M257.76 499.4H260.16M274.29 492V496.5M273.09 492H275.49M273.09 496.5H275.49M289.62 493V498M288.42 493H290.82M288.42 498H290.82M304.94 491.2V511.5M303.74 491.2H306.14M303.74 511.5H306.14M320.27 502.2V529.2M319.07 502.2H321.47M319.07 529.2H321.47M335.6 542.1V551.3M334.4 542.1H336.8M334.4 551.3H336.8" stroke="rgba(170,50,170,0.3)" stroke-width="0.8" fill="none"/><path d="M167 533.2V584.5M165.8 533.2H168.2M165.8 584.5H168.2M182.33 531.4V583.4M181.13 531.4H183.53M181.13 583.4H183.53M197.65 542.9V581.2M196.45 542.9H198.85M196.45 581.2H198.85M212.98 562V593.4M211.78 562H214.18M211.78 593.4H214.18M228.31 557.5V575.7M227.11 557.5H229.51M227.11 575.7H229.51M243.63 534.1V560.6M242.44 534.1H244.83M242.44 560.6H244.83M258.96 515.5V551.3M257.76 515.5H260.16M257.76 551.3H260.16M274.29 519.9V572.4M273.09 519.9H275.49M273.09 572.4H275.49M289.62 533.2V579.6M288.42 533.2H290.82M288.42 579.6H290.82M304.94 572.4V592.3M303.74 572.4H306.14M303.74 592.3H306.14M320.27 537V561.3M319.07 537H321.47M319.07 561.3H321.47M335.6 542.5V575.7M334.4 542.5H336.8M334.4 575.7H336.8" stroke="rgba(80,80,255,0.3)" stroke-width="0.8" fill="none"/><polyline points="167,548 182.33,538.5 197.65,542.1 212.98,539.2 228.31,523.7 243.63,496.1 258.96,497.2 274.29,494.3 289.62,495.6 304.94,499.4 320.27,515.5 335.6,548" stroke="#963a9f" stroke-width="1.0" fill="none" stroke-linejoin="miter"/><polyline points="167,559.1 182.33,561.3 197.65,562.4 212.98,577.4 228.31,566.8 243.63,546.9 258.96,533.7 274.29,545.8 289.62,556.2 304.94,581.9 320.27,549.1 335.6,559.1" stroke="#2b2bef" stroke-width="1.0" fill="none" stroke-linejoin="miter"/></g>
<g text-anchor="end" font-weight="normal" font-size="8.2"><text x="163" y="493.35">0.20</text><text x="163" y="525.55">0.15</text><text x="163" y="557.75">0.10</text><text x="163" y="589.95">0.05</text><text x="163" y="622.25">0.00</text></g>
<g text-anchor="middle" font-weight="normal" font-size="8.2"><text x="182.33" y="629.9">2</text><text x="212.98" y="629.9">4</text><text x="243.63" y="629.9">6</text><text x="274.29" y="629.9">8</text><text x="304.94" y="629.9">10</text><text x="335.6" y="629.9">12</text></g>
<text x="321.3" y="611.6" font-size="9.2" text-anchor="middle">Fe</text>
<clipPath id="clipMn"><rect x="350.3" y="490.6" width="168.6" height="128.9"/></clipPath>
<rect x="350.3" y="490.6" width="168.6" height="128.9" fill="#e5e5e5"/>
<path d="M350.3 503.6H518.9M350.3 542.3H518.9M350.3 581H518.9" stroke="#f4f4f4" stroke-width="1.4" fill="none"/>
<path d="M365.63 490.6V619.5M396.28 490.6V619.5M426.94 490.6V619.5M457.59 490.6V619.5M488.24 490.6V619.5" stroke="#f4f4f4" stroke-width="1.4" fill="none"/>
<path d="M380.95 490.6V619.5M411.61 490.6V619.5M442.26 490.6V619.5M472.92 490.6V619.5M503.57 490.6V619.5" stroke="#f4f4f4" stroke-width="1.35" stroke-dasharray="3.2 2.6" fill="none"/>
<g clip-path="url(#clipMn)"><path d="M350.3 586.7V592.3M349.1 586.7H351.5M349.1 592.3H351.5M365.63 591.1V597.8M364.43 591.1H366.83M364.43 597.8H366.83M380.95 590.7V597.3M379.75 590.7H382.15M379.75 597.3H382.15M396.28 594V599.5M395.08 594H397.48M395.08 599.5H397.48M411.61 577.9V584.5M410.41 577.9H412.81M410.41 584.5H412.81M426.94 596V601M425.74 596H428.13M425.74 601H428.13M442.26 594V599M441.06 594H443.46M441.06 599H443.46M457.59 595V601M456.39 595H458.79M456.39 601H458.79M472.92 593V598M471.72 593H474.12M471.72 598H474.12M488.24 595V599.5M487.04 595H489.44M487.04 599.5H489.44M503.57 589V595.5M502.37 589H504.77M502.37 595.5H504.77M518.9 589V593M517.7 589H520.1M517.7 593H520.1" stroke="rgba(170,50,170,0.3)" stroke-width="0.8" fill="none"/><path d="M350.3 533.2V573.5M349.1 533.2H351.5M349.1 573.5H351.5M365.63 516.4V580.5M364.43 516.4H366.83M364.43 580.5H366.83M380.95 550.9V572.4M379.75 550.9H382.15M379.75 572.4H382.15M396.28 549.1V593.4M395.08 549.1H397.48M395.08 593.4H397.48M411.61 583.4V598.2M410.41 583.4H412.81M410.41 598.2H412.81M426.94 587.2V600.4M425.74 587.2H428.13M425.74 600.4H428.13M442.26 554V618.8M441.06 554H443.46M441.06 618.8H443.46M457.59 525.9V604.4M456.39 525.9H458.79M456.39 604.4H458.79M472.92 567.9V600M471.72 567.9H474.12M471.72 600H474.12M488.24 590V596.7M487.04 590H489.44M487.04 596.7H489.44M503.57 550.2V588.9M502.37 550.2H504.77M502.37 588.9H504.77M518.9 542.9V584.1M517.7 542.9H520.1M517.7 584.1H520.1" stroke="rgba(80,80,255,0.3)" stroke-width="0.8" fill="none"/><polyline points="350.3,589.4 365.63,594 380.95,593.4 396.28,596.7 411.61,581.2 426.94,598.9 442.26,596.7 457.59,598.2 472.92,595.6 488.24,597.3 503.57,592.3 518.9,591.1" stroke="#963a9f" stroke-width="1.0" fill="none" stroke-linejoin="miter"/><polyline points="350.3,553.6 365.63,548 380.95,562 396.28,571.2 411.61,591.1 426.94,594 442.26,586.7 457.59,565 472.92,584.1 488.24,594 503.57,570.6 518.9,563.5" stroke="#2b2bef" stroke-width="1.0" fill="none" stroke-linejoin="miter"/></g>
<g text-anchor="start" font-weight="normal" font-size="8.2"><text x="521.4" y="506.35">0.045</text><text x="521.4" y="545.05">0.030</text><text x="521.4" y="583.75">0.015</text><text x="521.4" y="622.35">0.000</text></g>
<g text-anchor="middle" font-weight="normal" font-size="8.2"><text x="365.63" y="629.9">2</text><text x="396.28" y="629.9">4</text><text x="426.94" y="629.9">6</text><text x="457.59" y="629.9">8</text><text x="488.24" y="629.9">10</text><text x="518.9" y="629.9">12</text></g>
<text x="360.2" y="610.7" font-size="9.2" text-anchor="start">Mn</text>
</svg>
</body></html>
